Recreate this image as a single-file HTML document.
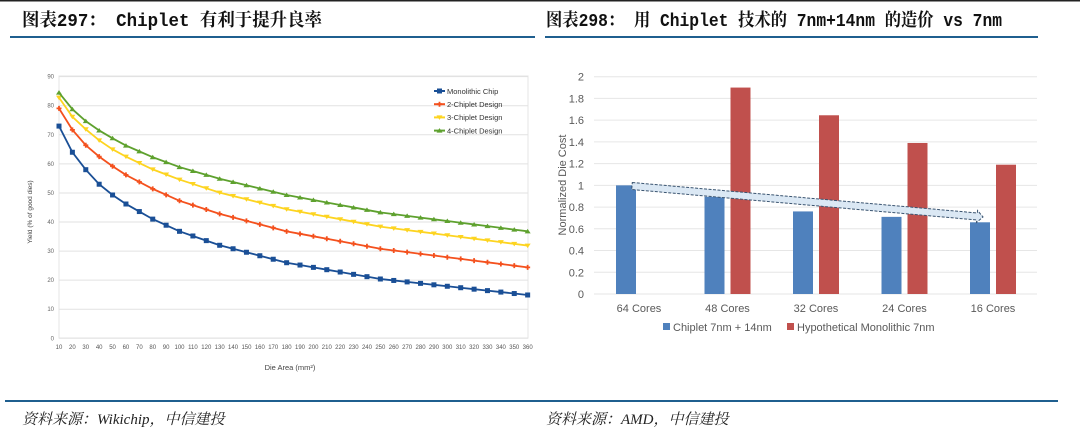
<!DOCTYPE html>
<html><head><meta charset="utf-8"><style>
html,body{margin:0;padding:0;background:#fff;width:1080px;height:436px;overflow:hidden}
svg{display:block}
</style></head><body>
<svg width="1080" height="436" viewBox="0 0 1080 436" xmlns="http://www.w3.org/2000/svg">
<rect x="0" y="0" width="1080" height="1.5" fill="#222"/>
<g font-family="'Liberation Mono','Noto Serif CJK SC',serif" font-size="18" font-weight="bold" fill="#111">
<text x="22" y="26" textLength="300" lengthAdjust="spacingAndGlyphs">图表297：  Chiplet 有利于提升良率</text>
<text x="546" y="26" textLength="456" lengthAdjust="spacingAndGlyphs">图表298：  用 Chiplet 技术的 7nm+14nm 的造价 vs 7nm</text>
</g>
<rect x="10" y="36" width="525" height="2" fill="#1f5f8f"/>
<rect x="545" y="36" width="493" height="2" fill="#1f5f8f"/>
<rect x="5" y="400" width="1053" height="2" fill="#1f5f8f"/>
<g font-family="'Liberation Serif','Noto Serif CJK SC',serif" font-size="15" font-style="italic" fill="#222">
<text x="22" y="424">资料来源：Wikichip，中信建投</text>
<text x="546" y="424">资料来源：AMD，中信建投</text>
</g>
<g id="left"></g>
<g id="right"></g>
</svg>
<script>
const NS="http://www.w3.org/2000/svg";
function el(p,t,a,txt){const e=document.createElementNS(NS,t);for(const k in a)e.setAttribute(k,a[k]);if(txt!==undefined)e.textContent=txt;p.appendChild(e);return e;}
const L=document.getElementById('left');
const X=v=>59+(v-10)*1.339, Y=v=>338.3-v*2.907;
el(L,'rect',{x:59,y:76,width:469,height:262,fill:'none',stroke:'#e4e4e4'});
for(let v=0;v<=90;v+=10){el(L,'line',{x1:59,x2:528,y1:Y(v),y2:Y(v),stroke:'#e2e2e2'});
el(L,'text',{x:54,y:Y(v)+2,'font-size':6,'text-anchor':'end',fill:'#666','font-family':'Liberation Sans'},v);}
for(let v=10;v<=360;v+=10){el(L,'text',{x:X(v),y:349,'font-size':6,'text-anchor':'middle',fill:'#555','font-family':'Liberation Sans'},v);}
el(L,'text',{x:290,y:370,'font-size':7.5,'text-anchor':'middle',fill:'#444','font-family':'Liberation Sans'},'Die Area (mm²)');
el(L,'text',{x:0,y:0,'font-size':6.5,'text-anchor':'middle',fill:'#444','font-family':'Liberation Sans',transform:'translate(32,212) rotate(-90)'},'Yield (% of good dies)');
const ax=[10,20,30,40,50,60,80,100,130,180,250,360];
const S=[
{c:'#1a4f96',m:'sq',d:[73,64,58,53,49.3,46.2,41,36.8,32,26,20.4,14.9]},
{c:'#f4511e',m:'st',d:[79.1,71.7,66.4,62.5,59.2,56.2,51.4,47.3,42.8,36.8,30.8,24.4]},
{c:'#fdd420',m:'dn',d:[82.8,76.2,71.9,68.1,65,62.5,58.1,54.6,50.1,44.4,38.4,31.9]},
{c:'#5ea12e',m:'up',d:[84.5,78.8,74.7,71.5,68.8,66.3,62.3,58.9,54.9,49.3,43.3,36.8]}];
function interp(d,x){for(let i=0;i<ax.length-1;i++){if(x<=ax[i+1]){const t=(x-ax[i])/(ax[i+1]-ax[i]);return d[i]+(d[i+1]-d[i])*t;}}return d[d.length-1];}
function mk(g,m,x,y,c){if(m=='sq')el(g,'rect',{x:x-2.5,y:y-2.5,width:5,height:5,fill:c});
else if(m=='st')el(g,'path',{d:`M${x-2.5},${y}h5M${x},${y-2.5}v5`,stroke:c,'stroke-width':1.8});
else if(m=='dn')el(g,'path',{d:`M${x-3},${y-2}h6l-3,4.5z`,fill:c});
else el(g,'path',{d:`M${x-3},${y+2}h6l-3,-4.5z`,fill:c});}
S.forEach(s=>{let pts=[];for(let v=10;v<=360;v+=10)pts.push([X(v),Y(interp(s.d,v))]);
el(L,'polyline',{points:pts.map(p=>p.join(',')).join(' '),fill:'none',stroke:s.c,'stroke-width':1.8});
pts.forEach(p=>mk(L,s.m,p[0],p[1],s.c));});
const names=['Monolithic Chip','2-Chiplet Design','3-Chiplet Design','4-Chiplet Design'];
S.forEach((s,i)=>{const y=91+i*13.2;el(L,'line',{x1:434,x2:445,y1:y,y2:y,stroke:s.c,'stroke-width':2});mk(L,s.m,439.5,y,s.c);
el(L,'text',{x:447,y:y+2.8,'font-size':7.5,fill:'#333','font-family':'Liberation Sans'},names[i]);});
const R=document.getElementById('right');
const RY=v=>294-v*108.65;
for(let i=0;i<=10;i++){const v=i*0.2;el(R,'line',{x1:594,x2:1037,y1:RY(v),y2:RY(v),stroke:'#e6e6e6'});
el(R,'text',{x:584,y:RY(v)+4,'font-size':11,'text-anchor':'end',fill:'#595959','font-family':'Liberation Sans'},i==0?'0':i%5==0?String(v):v.toFixed(1));}
const cen=[639,727.5,816,904.5,993],bl=[1,0.895,0.76,0.71,0.66],rd=[null,1.9,1.645,1.39,1.19],cat=['64 Cores','48 Cores','32 Cores','24 Cores','16 Cores'];
cen.forEach((c,i)=>{el(R,'rect',{x:c-23,y:RY(bl[i]),width:20,height:294-RY(bl[i]),fill:'#4f81bd'});
if(rd[i])el(R,'rect',{x:c+3,y:RY(rd[i]),width:20,height:294-RY(rd[i]),fill:'#c0504d'});
el(R,'text',{x:c,y:312,'font-size':11,'text-anchor':'middle',fill:'#595959','font-family':'Liberation Sans'},cat[i]);});
el(R,'rect',{x:663,y:323,width:7,height:7,fill:'#4f81bd'});
el(R,'text',{x:673,y:331,'font-size':11,fill:'#595959','font-family':'Liberation Sans'},'Chiplet 7nm + 14nm');
el(R,'rect',{x:787,y:323,width:7,height:7,fill:'#c0504d'});
el(R,'text',{x:797,y:331,'font-size':11,fill:'#595959','font-family':'Liberation Sans'},'Hypothetical Monolithic 7nm');
el(R,'text',{x:0,y:0,'font-size':11,'text-anchor':'middle',fill:'#595959','font-family':'Liberation Sans',transform:'translate(566,185) rotate(-90)'},'Normalized Die Cost');
const ang=Math.atan2(217-186,983-632)*180/Math.PI,len=Math.hypot(983-632,217-186);
const a=el(R,'g',{transform:`translate(632,186) rotate(${ang})`});
el(a,'path',{d:`M0,-3.5 L${len-6},-3.5 L${len-6},-6 L${len},0 L${len-6},6 L${len-6},3.5 L0,3.5 Z`,fill:'#dbe8f4',stroke:'#3a5470','stroke-width':1,'stroke-dasharray':'3,1.5'});
</script>
</body></html>
